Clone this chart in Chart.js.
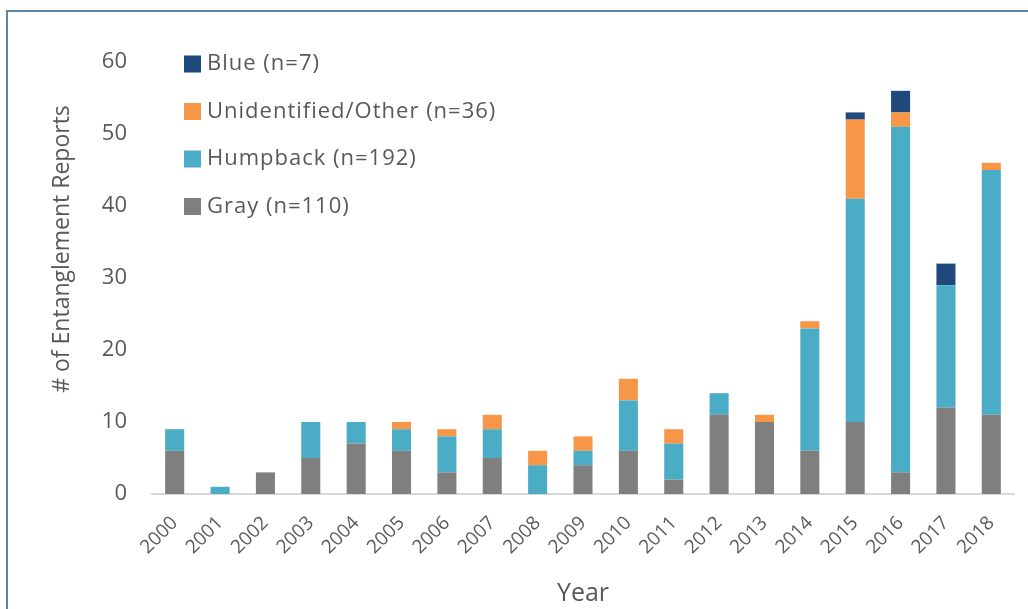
<!DOCTYPE html>
<html>
<head>
<meta charset="utf-8">
<script src="https://cdn.jsdelivr.net/npm/chart.js@4"></script>
<style>
  html, body { margin: 0; padding: 0; background: #fff; }
  .frame { position: relative; width: 1028px; height: 609px; }
  .frame:before { content: ""; position: absolute; left: 6px; top: 10px; right: -4px; bottom: -4px;
    border-left: 2px solid #5b87ad; border-top: 2px solid #5b87ad; }
  canvas { position: absolute; left: 0; top: 0; }
</style>
</head>
<body>
<div class="frame">
  <canvas id="myChart" width="1028" height="609"></canvas>
</div>
<script>
// years on the x axis
const years = ["2000","2001","2002","2003","2004","2005","2006","2007","2008","2009",
               "2010","2011","2012","2013","2014","2015","2016","2017","2018"];

// reports per species, bottom of the stack first
const gray     = [6, 0, 3, 5, 7, 6, 3, 5, 0, 4, 6, 2, 11, 10, 6, 10, 3, 12, 11];
const humpback = [3, 1, 0, 5, 3, 3, 5, 4, 4, 2, 7, 5, 3, 0, 17, 31, 48, 17, 34];
const other    = [0, 0, 0, 0, 0, 1, 1, 2, 2, 2, 3, 2, 0, 1, 1, 11, 2, 0, 1];
const blue     = [0, 0, 0, 0, 0, 0, 0, 0, 0, 0, 0, 0, 0, 0, 0, 1, 3, 3, 0];

const seriesLabels = ["Gray (n=110)", "Humpback (n=192)", "Unidentified/Other (n=36)", "Blue (n=7)"];
const yTicks = [0, 10, 20, 30, 40, 50, 60];

const textColor = "#595959";

// legend drawn inside the plot, top-left, Blue first
const insideLegend = {
  id: "insideLegend",
  afterDraw(chart) {
    const ctx = chart.ctx;
    const sets = chart.data.datasets.slice().reverse();
    ctx.save();
    ctx.font = "22px 'Open Sans'";
    ctx.letterSpacing = "1px";
    ctx.textBaseline = "middle";
    sets.forEach((ds, i) => {
      const y = 64 + i * 47.5;
      ctx.fillStyle = ds.backgroundColor;
      ctx.fillRect(184, y - 8.5, 17, 17);
      ctx.fillStyle = textColor;
      ctx.fillText(ds.label, 207, y);
    });
    ctx.restore();
  }
};

// y axis title sits a bit above the middle of the axis
const yTitle = {
  id: "yTitle",
  afterDraw(chart) {
    const ctx = chart.ctx;
    ctx.save();
    ctx.translate(62, 249);
    ctx.rotate(-Math.PI / 2);
    ctx.font = "23px 'Open Sans'";
    ctx.fillStyle = textColor;
    ctx.textAlign = "center";
    ctx.textBaseline = "middle";
    ctx.fillText("# of Entanglement Reports", 0, 0);
    ctx.restore();
  }
};

const ctx = document.getElementById("myChart").getContext("2d");
const chart = new Chart(ctx, {
  type: "bar",
  data: {
    labels: years,
    datasets: [
      { label: seriesLabels[0], data: gray,     backgroundColor: "#7f7f7f" },
      { label: seriesLabels[1], data: humpback, backgroundColor: "#4bacc6" },
      { label: seriesLabels[2], data: other,    backgroundColor: "#f79646" },
      { label: seriesLabels[3], data: blue,     backgroundColor: "#1f497d" }
    ]
  },
  options: {
    responsive: false,
    animation: false,
    layout: { padding: { top: 62, right: 14, left: 0, bottom: 0 } },
    datasets: { bar: { categoryPercentage: 1, barPercentage: 0.42 } },
    plugins: {
      legend: { display: false },
      tooltip: { enabled: false }
    },
    scales: {
      x: {
        stacked: true,
        grid: { display: false, drawTicks: false },
        border: { display: true, color: "#d9d9d9", width: 2 },
        ticks: { color: textColor, font: { family: "Open Sans", size: 19 }, minRotation: 45, maxRotation: 45, padding: 18 },
        title: { display: true, text: "Year", color: textColor, font: { family: "Open Sans", size: 25 }, padding: { top: 6, bottom: 0 } },
        afterFit(scale) { scale.height = 115; }
      },
      y: {
        stacked: true,
        min: 0,
        max: 60,
        grid: { display: false, drawTicks: false },
        border: { display: false },
        afterBuildTicks(scale) { scale.ticks = yTicks.map(v => ({ value: v })); },
        ticks: { color: textColor, font: { family: "Open Sans", size: 22 }, padding: 25 },
        afterFit(scale) { scale.width = 152; }
      }
    }
  },
  plugins: [insideLegend, yTitle]
});
</script>
</body>
</html>
